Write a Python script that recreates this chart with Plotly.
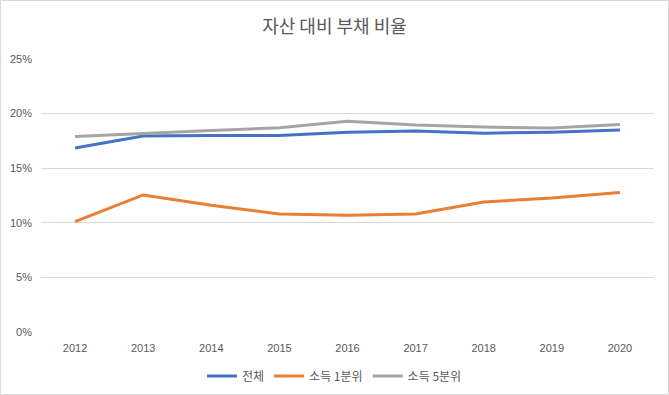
import plotly.graph_objects as go

years = ["2012", "2013", "2014", "2015", "2016", "2017", "2018", "2019", "2020"]
total = [16.85, 17.95, 18.0, 18.0, 18.3, 18.4, 18.2, 18.3, 18.5]
q1 = [10.1, 12.55, 11.6, 10.8, 10.7, 10.8, 11.9, 12.27, 12.78]
q5 = [17.9, 18.2, 18.45, 18.7, 19.3, 18.95, 18.77, 18.68, 19.0]
series_names = ["전체", "소득 1분위", "소득 5분위"]
colors = ["#4472C4", "#ED7D31", "#A5A5A5"]
yticks = [0, 5, 10, 15, 20, 25]
ytick_text = ["0%", "5%", "10%", "15%", "20%", "25%"]

W, H = 669, 395
ml, mr, mt, mb = 41, 15, 59, 63

font = "Noto Sans CJK KR, Liberation Sans, sans-serif"
fig = go.Figure()
for name, vals, c in zip(series_names, [total, q1, q5], colors):
    fig.add_trace(go.Scatter(x=years, y=vals, mode="lines", name=name,
                             line=dict(color=c, width=3)))

pw = W - ml - mr
ph = H - mt - mb
fig.add_shape(type="rect", xref="paper", yref="paper",
              x0=(0.5 - ml) / pw, x1=(W - 0.5 - ml) / pw,
              y0=-(H - 0.5 - mt - ph) / ph, y1=(mt - 0.5) / ph + 1,
              line=dict(color="#D9D9D9", width=1), fillcolor="rgba(0,0,0,0)", layer="below")

fig.update_layout(
    width=W, height=H,
    margin=dict(l=ml, r=mr, t=mt, b=mb, autoexpand=False),
    paper_bgcolor="white", plot_bgcolor="white",
    font=dict(family=font, size=11, color="#595959"),
    title=dict(text="자산 대비 부채 비율", x=0.5, xref="container", xanchor="center",
               y=1 - 27 / H, yanchor="middle", yref="container",
               font=dict(size=18, color="#595959", family=font)),
    legend=dict(orientation="h", x=0.5, xref="container", xanchor="center",
                y=1 - 376 / H, yref="container", yanchor="middle",
                font=dict(size=12, color="#595959"), tracegroupgap=0, itemwidth=30),
    showlegend=True,
)
fig.update_xaxes(range=[-0.5, 8.5], showgrid=False, showline=False, zeroline=False, ticks="",
                 ticklabelstandoff=8,
                 tickfont=dict(size=11, family="Liberation Sans, sans-serif"))
fig.update_yaxes(range=[0, 25], tickvals=yticks, ticktext=ytick_text,
                 showgrid=True, gridcolor="#D9D9D9", gridwidth=1, zeroline=False,
                 showline=False, ticks="", ticklabelstandoff=8,
                 tickfont=dict(size=11, family="Liberation Sans, sans-serif"))
fig.write_html("out.html", post_script="document.body.style.margin='0';",
               config={"displayModeBar": False})
